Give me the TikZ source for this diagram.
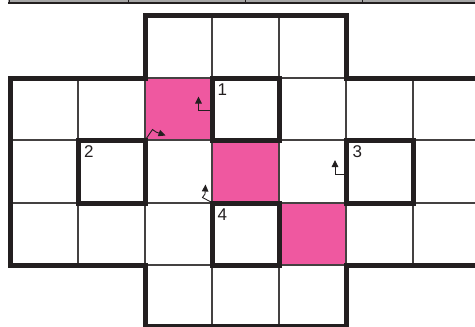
\documentclass[tikz,border=0pt]{standalone}
\usepackage{fontspec}
\setmainfont{Liberation Sans}
\usetikzlibrary{arrows.meta}
\definecolor{pinkc}{RGB}{239,88,160}
\definecolor{ink}{RGB}{35,31,32}
\tikzset{
  thinline/.style={line width=1.1pt, draw=ink!85},
  thickline/.style={line width=5pt, draw=ink, line join=miter},
  pinkcell/.style={fill=pinkc},
  lbl/.style={anchor=base west, inner sep=0pt, font=\fontsize{17}{20}\selectfont, text=ink},
  hint/.style={line width=0.9pt, draw=ink, -{Triangle[width=6.5pt,length=7pt]}}
}
\begin{document}
\begin{tikzpicture}[x=1pt,y=-1pt]
\useasboundingbox (0,0) rectangle (475,327);
\clip (0,0) rectangle (475,327);
% top strip (cut-off table)
\fill[gray!70] (8,-2) rectangle (480,3);
\draw[line width=1.6pt, ink] (8,3.2) -- (480,3.2);
\foreach \x in {9,128,245,362} \draw[line width=0.8pt, ink] (\x,-2) -- (\x,3);
% pink cells
\fill[pinkcell] (145,78) rectangle (212,140);
\fill[pinkcell] (212,140) rectangle (279,203);
\fill[pinkcell] (279,203) rectangle (346,265);
% thin grid lines
\foreach \x in {78,145,212,279,346,413} \draw[thinline] (\x,78) -- (\x,265);
\foreach \y in {140,203} \draw[thinline] (10,\y) -- (480,\y);
\foreach \x in {212,279} {
  \draw[thinline] (\x,15) -- (\x,78);
  \draw[thinline] (\x,265) -- (\x,326);
}
\draw[thinline] (145,78) -- (346,78);
\draw[thinline] (145,265) -- (346,265);
% thick outline
\draw[thickline] (480,78) -- (346,78) -- (346,15) -- (145,15) -- (145,78) -- (10,78) -- (10,265) -- (145,265) -- (145,326) -- (346,326) -- (346,265) -- (480,265);
% thick boxes
\draw[thickline] (212,78) rectangle (279,140);
\draw[thickline] (78,140) rectangle (145,203);
\draw[thickline] (346,140) rectangle (413,203);
\draw[thickline] (212,203) rectangle (279,265);
% labels
\node[lbl] (n1) at (217.5,95) {1};
\node[lbl] (n2) at (84,157) {2};
\node[lbl] (n3) at (352.5,157) {3};
\node[lbl] (n4) at (217.5,220) {4};
% small hint arrows
\coordinate (a1s) at (210,110.5);
\coordinate (a1t) at (198.5,96.5);
\draw[hint] (a1s) -- (198.5,110.5) -- (a1t);
\coordinate (a2s) at (146,139);
\coordinate (a2t) at (165.5,135.5);
\draw[hint] (a2s) -- (152.5,129.5) -- (156,132) -- (a2t);
\coordinate (a3s) at (344,174.5);
\coordinate (a3t) at (335,160);
\draw[hint] (a3s) -- (335,174.5) -- (a3t);
\coordinate (a4s) at (211,202);
\coordinate (a4t) at (205.5,184.5);
\draw[hint] (a4s) -- (202.5,197.5) -- (205,194) -- (a4t);
\end{tikzpicture}
\end{document}
